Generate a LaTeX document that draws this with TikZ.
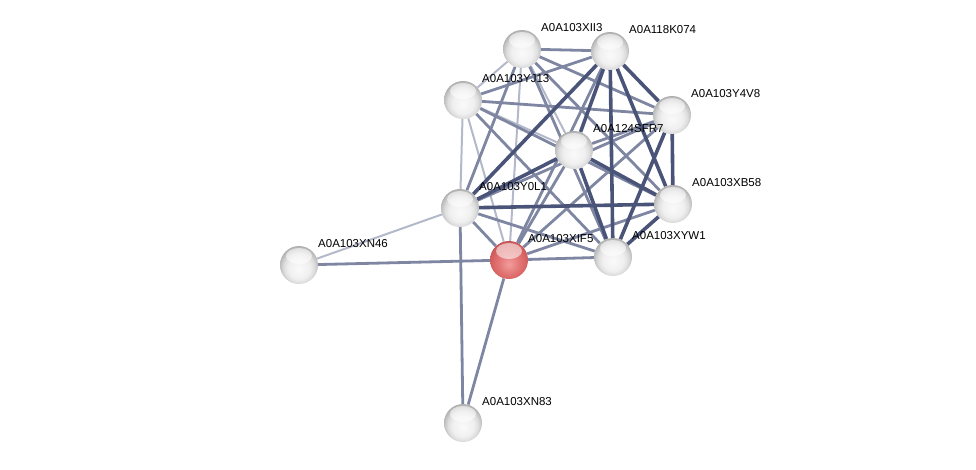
\documentclass[tikz,border=0pt]{standalone}
\usepackage{fontspec}
\setmainfont{Liberation Sans}
\usepackage{xcolor}
\definecolor{EdgeLight}{HTML}{B3B8CA}
\definecolor{EdgeMid}{HTML}{7E86A2}
\definecolor{EdgeDark}{HTML}{4A5478}
\definecolor{RedCore}{HTML}{F39C9C}
\definecolor{RedBody}{HTML}{DC6868}
\definecolor{RedRim}{HTML}{A83838}
\usetikzlibrary{calc,backgrounds}
\pgfdeclareradialshading{greyball}{\pgfpoint{0bp}{-6bp}}{color(0bp)=(black!2); color(14bp)=(black!6); color(20bp)=(black!13); color(26bp)=(black!28); color(33bp)=(black!42); color(50bp)=(black!42)}
\pgfdeclareradialshading{redball}{\pgfpoint{0bp}{-6bp}}{color(0bp)=(RedCore); color(14bp)=(RedBody!75!RedCore); color(20bp)=(RedBody); color(26bp)=(RedBody!70!RedRim); color(33bp)=(RedRim); color(50bp)=(RedRim)}

\begin{document}
\begin{tikzpicture}[x=1pt, y=-1pt,
  protein/.style={circle, minimum size=38pt, inner sep=0pt, shading=greyball,
    path picture={\fill[white, opacity=.55] ($(path picture bounding box.north)+(0,10)$) ellipse (13pt and 8pt);}},
  query/.style={protein, shading=redball},
  lbl/.style={font=\fontsize{11.5}{13}\selectfont, anchor=west, inner sep=0pt},
  weakedge/.style={EdgeLight, line width=2pt},
  midedge/.style={EdgeMid, line width=2.8pt},
  strongedge/.style={EdgeDark, line width=3.6pt}]
  \useasboundingbox (0,0) rectangle (976,469);

  % proteins
  \node[protein] (xii3) at (522,49) {};
  \node[protein] (k074) at (610,51) {};
  \node[protein] (yj13) at (463,100) {};
  \node[protein] (y4v8) at (672,115) {};
  \node[protein] (sfr7) at (574,150) {};
  \node[protein] (y0l1) at (460,208) {};
  \node[protein] (xb58) at (673,204) {};
  \node[protein] (xn46) at (299,265) {};
  \node[query]   (xif5) at (509,260) {};
  \node[protein] (xyw1) at (613,257) {};
  \node[protein] (xn83) at (463,423) {};

  % names
  \foreach \n/\t in {xii3/A0A103XII3, k074/A0A118K074, yj13/A0A103YJ13, y4v8/A0A103Y4V8,
      sfr7/A0A124SFR7, y0l1/A0A103Y0L1, xb58/A0A103XB58, xn46/A0A103XN46,
      xif5/A0A103XIF5, xyw1/A0A103XYW1, xn83/A0A103XN83}
    \node[lbl] at ($(\n)+(19,-21)$) {\t};

  % interactions
  \begin{scope}[on background layer]
    \foreach \a/\b in {xii3/yj13, xii3/sfr7, xii3/xif5, yj13/sfr7, yj13/y0l1, yj13/xif5, xn46/y0l1}
      \draw[weakedge] (\a) -- (\b);
    \foreach \a/\b in {xii3/k074, xii3/y4v8, xii3/y0l1, xii3/xb58, xii3/xyw1, k074/yj13, k074/xif5,
        yj13/y4v8, yj13/xb58, yj13/xyw1, y4v8/sfr7, y4v8/y0l1, y4v8/xif5, sfr7/xif5,
        y0l1/xif5, y0l1/xyw1, xb58/xif5, xif5/xyw1, xn46/xif5, xn83/y0l1, xn83/xif5}
      \draw[midedge] (\a) -- (\b);
    \foreach \a/\b in {k074/y4v8, k074/sfr7, k074/y0l1, k074/xb58, k074/xyw1, y4v8/xb58,
        y4v8/xyw1, sfr7/y0l1, sfr7/xb58, sfr7/xyw1, y0l1/xb58, xb58/xyw1}
      \draw[strongedge] (\a) -- (\b);
  \end{scope}
\end{tikzpicture}
\end{document}
